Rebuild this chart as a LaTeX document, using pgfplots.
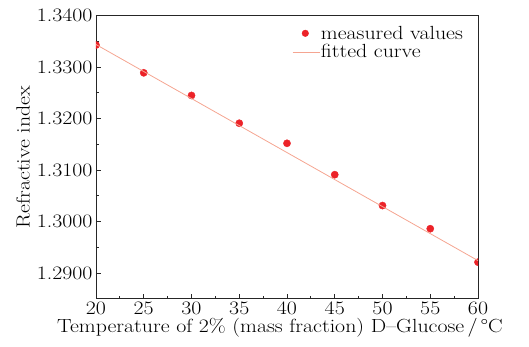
\documentclass[border=0pt]{standalone}
\usepackage{fontspec}
\setmainfont{Latin Modern Roman}[FakeStretch=1.15]
\usepackage{pgfplots}
\pgfplotsset{compat=1.18}
\definecolor{ptred}{RGB}{236,34,40}
\definecolor{fitline}{RGB}{245,165,145}
\begin{document}
\begin{tikzpicture}
\begin{axis}[
  scale only axis,
  width=382pt, height=283pt,
  xmin=20, xmax=60, ymin=1.285, ymax=1.340,
  xtick={20,25,...,60},
  minor x tick num=1,
  ytick={1.29,1.30,1.31,1.32,1.33,1.34},
  minor y tick num=1,
  tick align=inside,
  xtick pos=left, ytick pos=left,
  major tick length=5pt, minor tick length=3pt,
  axis line style={color=black!85, line width=0.9pt},
  every tick/.style={black!85, line width=0.8pt},
  font=\fontsize{19}{22}\selectfont,
  /pgf/number format/assume math mode=true,
  yticklabel style={/pgf/number format/.cd, fixed, fixed zerofill, precision=4},
  xticklabel style={/pgf/number format/.cd, fixed},
  scaled y ticks=false,
  xlabel={Temperature of 2\% (mass fraction) D--Glucose\,/\,°C},
  ylabel={Refractive index},
  xlabel style={yshift=4pt, xshift=-7pt},
  clip marker paths=true,
  legend style={draw=none, fill=none, at={(0.505,0.975)}, anchor=north west,
    font=\fontsize{19}{22}\selectfont, row sep=2pt,
    nodes={inner sep=1pt}},
  legend cell align=left,
]
\addplot[only marks, mark=*, mark size=3.6pt, color=ptred,
  legend image code/.code={\draw[mark=*, mark size=3.3pt, ptred] plot coordinates {(0.1cm,0cm)};}] coordinates {
  (20,1.3343) (25,1.3289) (30,1.3245) (35,1.3191) (40,1.3152)
  (45,1.3091) (50,1.3031) (55,1.2986) (60,1.2921)
};
\addlegendentry{measured values}
\addplot[color=fitline, line width=0.8pt,
  legend image code/.code={\draw[fitline, line width=0.8pt] (-0.35cm,0cm) -- (0.6cm,0cm);}] coordinates {
  (20,1.3344) (60,1.2924)
};
\addlegendentry{fitted curve}
\coordinate (sw) at (rel axis cs:0,0);
\coordinate (ne) at (rel axis cs:1,1);
\end{axis}
\pgfresetboundingbox
\path ([xshift=-96pt,yshift=-48pt]sw) rectangle ([xshift=51pt,yshift=15.7pt]ne);
\end{tikzpicture}
\end{document}
